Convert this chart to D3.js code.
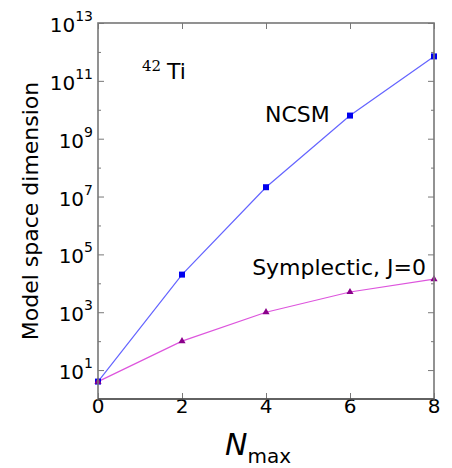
<!DOCTYPE html>
<html>
<head>
<meta charset="utf-8">
<script src="https://cdn.jsdelivr.net/npm/d3@7"></script>
<style>
  body { margin: 0; background: #fff; }
  text { font-family: "DejaVu Sans", sans-serif; fill: #000; }
</style>
</head>
<body>
<div id="chart"></div>
<script>
// data
const nmax = [0, 2, 4, 6, 8];
const ncsm = [4, 2.0e4, 2.1e7, 6.3e9, 7.0e11];
const symplectic = [4, 100, 1000, 5000, 14000];
const xTicks = [0, 2, 4, 6, 8];
const yMajorExp = [1, 3, 5, 7, 9, 11, 13];
const yMinorExp = [0, 2, 4, 6, 8, 10, 12];

const svgWidth = 452, svgHeight = 468;
const margin = { top: 23, right: 18, bottom: 69, left: 98 };
const width = svgWidth - margin.left - margin.right;
const height = svgHeight - margin.top - margin.bottom;

const svg = d3.select('#chart').append('svg')
  .attr('width', svgWidth)
  .attr('height', svgHeight);

const g = svg.append('g')
  .attr('transform', `translate(${margin.left},${margin.top})`);

const x = d3.scaleLinear().domain([0, 8]).range([0, width]);
const y = d3.scaleLog().domain([1, 1e13]).range([height, 0]);

// ticks (inward, on all four sides)
const majorY = yMajorExp.map((e) => Math.pow(10, e));
const minorY = yMinorExp.map((e) => Math.pow(10, e));

g.append('g').call(d3.axisLeft(y).tickValues(majorY).tickSize(-6).tickFormat(''))
  .call((a) => a.select('.domain').remove());
g.append('g').call(d3.axisLeft(y).tickValues(minorY).tickSize(-3).tickFormat(''))
  .call((a) => a.select('.domain').remove());
g.append('g').attr('transform', `translate(${width},0)`)
  .call(d3.axisRight(y).tickValues(majorY).tickSize(-6).tickFormat(''))
  .call((a) => a.select('.domain').remove());
g.append('g').attr('transform', `translate(${width},0)`)
  .call(d3.axisRight(y).tickValues(minorY).tickSize(-3).tickFormat(''))
  .call((a) => a.select('.domain').remove());
g.append('g').attr('transform', `translate(0,${height})`)
  .call(d3.axisBottom(x).tickValues(xTicks).tickSize(-6).tickFormat(''))
  .call((a) => a.select('.domain').remove());
g.append('g')
  .call(d3.axisTop(x).tickValues(xTicks).tickSize(-6).tickFormat(''))
  .call((a) => a.select('.domain').remove());
g.selectAll('.tick line').attr('stroke', '#555').attr('stroke-width', 0.8);

// tick labels
const yLab = g.selectAll('.ylab').data(yMajorExp).enter().append('text')
  .attr('class', 'ylab')
  .attr('x', -5)
  .attr('y', (e) => y(Math.pow(10, e)) + 9)
  .attr('text-anchor', 'end')
  .style('font-size', '20px');
yLab.append('tspan').text('10');
yLab.append('tspan').attr('dy', -11).style('font-size', '14px').text((e) => e);

g.selectAll('.xlab').data(xTicks).enter().append('text')
  .attr('class', 'xlab')
  .attr('x', (d) => x(d))
  .attr('y', height + 14)
  .attr('text-anchor', 'middle')
  .style('font-size', '20px')
  .text((d) => d);

// lines and markers
const line = d3.line()
  .x((d, i) => x(nmax[i]))
  .y((d) => y(d));

g.append('path').datum(ncsm)
  .attr('fill', 'none')
  .attr('stroke', '#6464ff')
  .attr('stroke-width', 1.2)
  .attr('d', line);

g.append('path').datum(symplectic)
  .attr('fill', 'none')
  .attr('stroke', '#dd55dd')
  .attr('stroke-width', 1.2)
  .attr('d', line);

g.selectAll('.sq').data(ncsm).enter().append('rect')
  .attr('class', 'sq')
  .attr('x', (d, i) => x(nmax[i]) - 3)
  .attr('y', (d) => y(d) - 3)
  .attr('width', 6)
  .attr('height', 6)
  .attr('fill', '#0000ee');

g.selectAll('.tri').data(symplectic).enter().append('path')
  .attr('class', 'tri')
  .attr('transform', (d, i) => `translate(${x(nmax[i])},${y(d)})`)
  .attr('d', d3.symbol(d3.symbolTriangle, 22))
  .attr('fill', '#8a008a');

// spines
g.append('rect')
  .attr('width', width)
  .attr('height', height)
  .attr('fill', 'none')
  .attr('stroke', '#777')
  .attr('stroke-width', 1.6);
g.append('line')
  .attr('x1', 0).attr('x2', width)
  .attr('y1', height).attr('y2', height)
  .attr('stroke', '#333').attr('stroke-width', 1.2);

// annotations
const ti = svg.append('text')
  .attr('x', 142)
  .attr('y', 79)
  .style('font-size', '22px');
ti.append('tspan')
  .style('font-family', '"DejaVu Serif", serif')
  .style('font-size', '15px')
  .attr('dy', -8)
  .text('42');
ti.append('tspan').attr('dx', 6).attr('dy', 8).text('Ti');

svg.append('text')
  .attr('x', 265)
  .attr('y', 122)
  .style('font-size', '22px')
  .text('NCSM');

svg.append('text')
  .attr('x', 426)
  .attr('y', 275)
  .attr('text-anchor', 'end')
  .style('font-size', '22px')
  .text('Symplectic, J=0');

// axis titles
svg.append('text')
  .attr('transform', 'translate(38,211) rotate(-90)')
  .attr('text-anchor', 'middle')
  .style('font-size', '22px')
  .text('Model space dimension');

const xt = svg.append('text')
  .attr('x', 225)
  .attr('y', 455);
xt.append('tspan').style('font-size', '30px').style('font-style', 'italic').text('N');
xt.append('tspan').attr('dy', 8).style('font-size', '20px').text('max');
</script>
</body>
</html>
